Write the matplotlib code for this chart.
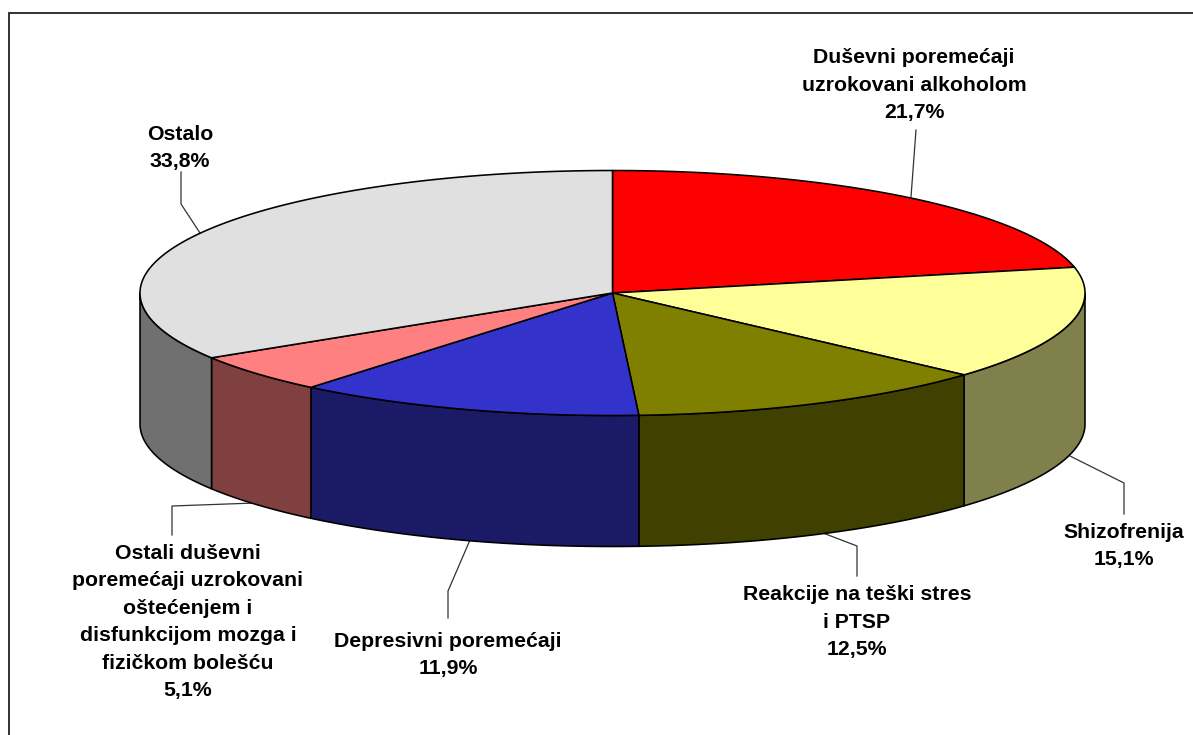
import numpy as np
import matplotlib
matplotlib.use("Agg")
import matplotlib.pyplot as plt
from matplotlib.patches import Polygon

plt.rcParams['font.family'] = ['Liberation Sans', 'DejaVu Sans']

labels = ["Duševni poremećaji\nuzrokovani alkoholom", "Shizofrenija",
          "Reakcije na teški stres\ni PTSP", "Depresivni poremećaji",
          "Ostali duševni\nporemećaji uzrokovani\noštećenjem i\ndisfunkcijom mozga i\nfizičkom bolešću",
          "Ostalo"]
values = [21.7, 15.1, 12.5, 11.9, 5.1, 33.8]
top_colors = ["#FF0000", "#FFFF99", "#808000", "#3333CC", "#FF8080", "#E0E0E0"]
side_colors = ["#800000", "#80804D", "#404000", "#1A1A66", "#804040", "#707070"]

label_pos = [(914, 85), (1124, 546), (857, 622), (448, 655), (188, 622), (180, 148)]
leaders = [
    [(916, 130), (911, 197)],
    [(1124, 514), (1124, 483), (1070, 456)],
    [(857, 576), (857, 546), (823, 533)],
    [(448, 618), (448, 591), (470, 540)],
    [(172, 535), (172, 506), (255, 503)],
    [(181, 172), (181, 204), (200, 233)],
]

W, H = 1193, 735
CX, CY, RX, RY, DEPTH = 612.5, 293, 472.5, 122.5, 131

fig = plt.figure(figsize=(W / 100, H / 100), dpi=100, facecolor="white")
ax = fig.add_axes([0, 0, 1, 1])
ax.set_xlim(0, W)
ax.set_ylim(H, 0)
ax.axis("off")

# chart frame (top and left edges, the rest falls outside the picture)
ax.plot([8.5, 8.5, W], [H, 12.5, 12.5], color="#222222", lw=1.3, solid_joinstyle="miter", zorder=1)


def rim(t):
    """Point on the rim of the pie, t in degrees clockwise from the top."""
    r = np.radians(t)
    return CX + RX * np.sin(r), CY - RY * np.cos(r)


edges = np.concatenate([[0], np.cumsum(values)]) / sum(values) * 360
# slight foreshortening of the 3-D projection
edges = edges - 0.5 * np.sin(np.radians(edges / 2)) ** 2

# side wall, only where the rim faces the viewer
for i in range(len(values)):
    a, b = max(edges[i], 90), min(edges[i + 1], 270)
    if b <= a:
        continue
    t = np.linspace(a, b, 120)
    x, y = rim(t)
    pts = np.r_[np.c_[x, y], np.c_[x[::-1], y[::-1] + DEPTH]]
    ax.add_patch(Polygon(pts, closed=True, facecolor=side_colors[i], edgecolor="black",
                         lw=1.15, joinstyle="round", zorder=3))

# top face
for i in range(len(values)):
    t = np.linspace(edges[i], edges[i + 1], 200)
    x, y = rim(t)
    pts = np.r_[[[CX, CY]], np.c_[x, y]]
    ax.add_patch(Polygon(pts, closed=True, facecolor=top_colors[i], edgecolor="black",
                         lw=1.15, joinstyle="round", zorder=4))

for path in leaders:
    xs, ys = zip(*path)
    ax.plot(xs, ys, color="#333333", lw=0.9, zorder=2)

for (lx, ly), name, v in zip(label_pos, labels, values):
    text = f"{name}\n{v:.1f}%".replace(".", ",")
    ax.text(lx, ly, text, ha="center", va="center", fontsize=15.3, fontweight="bold",
            color="black", linespacing=1.56, zorder=5)

fig.savefig("out.png", dpi=100, facecolor="white")
